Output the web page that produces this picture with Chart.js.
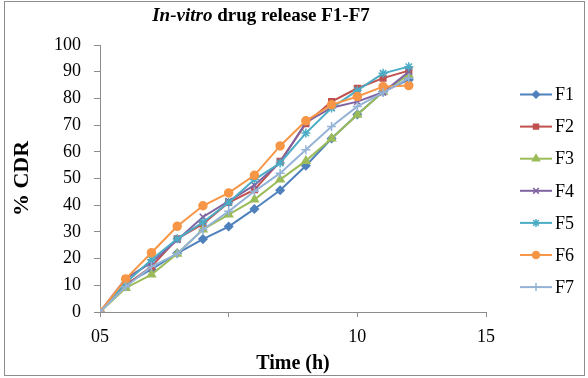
<!DOCTYPE html>
<html lang="en">
<head>
    <meta charset="UTF-8">
    <title>In-vitro drug release F1-F7</title>
    <script src="https://cdn.jsdelivr.net/npm/chart.js"></script>
    <style>
        body { margin: 0; background: #fff; }
        #wrap { position: relative; width: 588px; height: 378px; }
    </style>
</head>
<body>
    <div id="wrap"><canvas id="releaseChart" width="588" height="378"></canvas></div>

    <script>
        // Time points (h) and % CDR
        const hours = [0, 1, 2, 3, 4, 5, 6, 7, 8, 9, 10, 11, 12];
        const F1 = [0, 10.5, 16, 22, 27.3, 32, 38.6, 45.6, 54.8, 65, 74, 82.5, 87];
        const F2 = [0, 10, 17, 27.4, 33, 41, 45.8, 56.4, 70.5, 78.8, 83.8, 87.6, 90.4];
        const F3 = [0, 9, 14, 21.8, 30.9, 36.5, 42.1, 49.6, 56.6, 65, 73.9, 82.5, 88.8];
        const F4 = [0, 12.5, 18.5, 27, 35.6, 41.5, 47.5, 56, 71, 76.5, 78.8, 82.3, 90];
        const F5 = [0, 11, 19.6, 27.4, 33.6, 41, 49.6, 55.8, 67, 76.4, 83, 89.4, 91.9];
        const F6 = [0, 12.4, 22.2, 32.1, 39.8, 44.6, 51.2, 62.2, 71.6, 77.6, 80.7, 84.4, 84.8];
        const F7 = [0, 9.5, 17, 21.8, 30.9, 37.7, 45.2, 52, 60.8, 69.5, 77, 82.2, 87.6];
        const seriesNames = ['F1', 'F2', 'F3', 'F4', 'F5', 'F6', 'F7'];
        const seriesValues = [F1, F2, F3, F4, F5, F6, F7];
        const xTickValues = [0, 5, 10, 15];
        const xTickLabels = ['05', '', '10', '15'];

        const colors = ['#4F81BD', '#C0504D', '#9BBB59', '#8064A2', '#4BACC6', '#F79646', '#95B3D7'];
        const markers = ['rectRot', 'rect', 'triangle', 'crossRot', 'star', 'circle', 'cross'];
        const radii = [4, 4, 4.5, 4.5, 4.5, 4, 4.5];
        const serif = "'Liberation Serif', 'Times New Roman', serif";

        const datasets = seriesNames.map((name, i) => ({
            label: name,
            data: hours.map((h, j) => ({ x: h, y: seriesValues[i][j] })),
            borderColor: colors[i],
            backgroundColor: colors[i],
            pointStyle: markers[i],
            pointRadius: radii[i],
            pointBorderWidth: 1.5,
            borderWidth: 2,
            tension: 0,
            order: seriesNames.length - i
        }));

        // frame, mixed-style title and line+marker legend
        const decor = {
            id: 'decor',
            beforeDraw(chart) {
                const ctx = chart.ctx;
                ctx.save();
                ctx.fillStyle = '#fff';
                ctx.fillRect(0, 0, chart.width, chart.height);
                ctx.restore();
            },
            afterDraw(chart) {
                const ctx = chart.ctx;
                ctx.save();
                ctx.strokeStyle = '#8c8c8c';
                ctx.lineWidth = 1;
                ctx.strokeRect(4.5, 1.5, 580, 374);

                // title
                const part1 = 'In-vitro';
                const part2 = ' drug release F1-F7';
                ctx.textBaseline = 'middle';
                ctx.fillStyle = '#000';
                ctx.font = 'italic bold 19px ' + serif;
                const w1 = ctx.measureText(part1).width;
                ctx.font = 'bold 19px ' + serif;
                const w2 = ctx.measureText(part2).width;
                let tx = 261 - (w1 + w2) / 2;
                ctx.font = 'italic bold 19px ' + serif;
                ctx.fillText(part1, tx, 16);
                ctx.font = 'bold 19px ' + serif;
                ctx.fillText(part2, tx + w1, 16);

                // legend
                ctx.font = '18px ' + serif;
                chart.data.datasets.forEach((ds, i) => {
                    const y = 94.5 + i * 32.1;
                    ctx.strokeStyle = ds.borderColor;
                    ctx.lineWidth = 2;
                    ctx.beginPath();
                    ctx.moveTo(520, y);
                    ctx.lineTo(552, y);
                    ctx.stroke();
                    ctx.fillStyle = ds.backgroundColor;
                    ctx.strokeStyle = ds.borderColor;
                    ctx.lineWidth = 1.5;
                    Chart.helpers.drawPoint(ctx, {
                        pointStyle: ds.pointStyle,
                        radius: ds.pointRadius - 0.5,
                        borderWidth: 1.5,
                        rotation: 0
                    }, 536, y);
                    ctx.fillStyle = '#000';
                    ctx.textAlign = 'left';
                    ctx.fillText(ds.label, 555, y + 1);
                });
                ctx.restore();
            }
        };

        const ctx = document.getElementById('releaseChart').getContext('2d');
        new Chart(ctx, {
            type: 'line',
            data: { datasets: datasets },
            options: {
                responsive: false,
                animation: false,
                layout: { padding: { left: 0, top: 45, right: 102, bottom: 0 } },
                plugins: {
                    legend: { display: false },
                    title: { display: false },
                    tooltip: { enabled: false }
                },
                scales: {
                    x: {
                        type: 'linear',
                        min: 0,
                        max: 15,
                        afterFit: s => { s.height = 66; },
                        afterBuildTicks: s => { s.ticks = xTickValues.map(v => ({ value: v })); },
                        ticks: {
                            color: '#000',
                            padding: 9,
                            maxRotation: 0,
                            autoSkip: false,
                            font: { family: serif, size: 18 },
                            callback: v => xTickLabels[xTickValues.indexOf(v)]
                        },
                        grid: { drawOnChartArea: false, drawTicks: true, tickLength: 5, color: '#8c8c8c' },
                        border: { color: '#8c8c8c', width: 1 },
                        title: {
                            display: true,
                            text: 'Time (h)',
                            color: '#000',
                            font: { family: serif, size: 20, weight: 'bold' },
                            padding: { top: 2, bottom: 2 }
                        }
                    },
                    y: {
                        min: 0,
                        max: 100,
                        afterFit: s => { s.width = 100; },
                        ticks: {
                            stepSize: 10,
                            color: '#000',
                            padding: 13,
                            autoSkip: false,
                            font: { family: serif, size: 18 }
                        },
                        grid: { drawOnChartArea: false, drawTicks: true, tickLength: 6, color: '#8c8c8c' },
                        border: { color: '#8c8c8c', width: 1 },
                        title: {
                            display: true,
                            text: '% CDR',
                            color: '#000',
                            font: { family: serif, size: 22, weight: 'bold' },
                            padding: { top: 9, bottom: 9 }
                        }
                    }
                }
            },
            plugins: [decor]
        });
    </script>
</body>
</html>
